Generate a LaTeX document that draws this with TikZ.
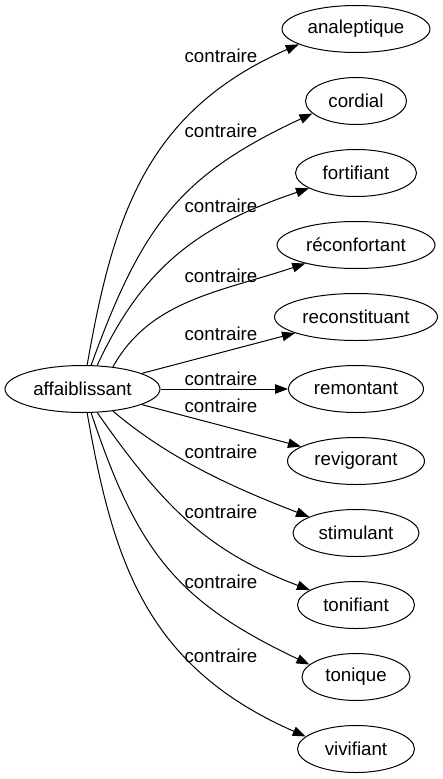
\documentclass[tikz,border=0pt]{standalone}
\usepackage{fontspec}
\setmainfont{Liberation Sans}
\usetikzlibrary{shapes.geometric,arrows.meta}
\begin{document}
\begin{tikzpicture}[x=1pt,y=1pt,
  word/.style={ellipse, draw, line width=1pt, inner sep=0pt, minimum height=47pt,
    font=\fontsize{18.7pt}{22pt}\selectfont},
  lbl/.style={inner sep=0pt, anchor=base, font=\fontsize{18.7pt}{22pt}\selectfont},
  edge/.style={line width=1pt, -{Triangle[length=13pt,width=9.5pt]}}]
\useasboundingbox (0,0) rectangle (443,-779);
\node[word, minimum width=155pt] (src) at (82.5,-389) {affaiblissant};
\node[word, minimum width=148pt] (t1) at (356,-29) {analeptique};
\node[word, minimum width=101pt] (t2) at (356,-101) {cordial};
\node[word, minimum width=121pt] (t3) at (356,-173) {fortifiant};
\node[word, minimum width=158pt] (t4) at (356,-245) {réconfortant};
\node[word, minimum width=163pt] (t5) at (356,-317) {reconstituant};
\node[word, minimum width=135pt] (t6) at (356,-389) {remontant};
\node[word, minimum width=137pt] (t7) at (356,-461) {revigorant};
\node[word, minimum width=126pt] (t8) at (356,-533) {stimulant};
\node[word, minimum width=117pt] (t9) at (356,-605) {tonifiant};
\node[word, minimum width=108pt] (t10) at (356,-677) {tonique};
\node[word, minimum width=117pt] (t11) at (356,-749) {vivifiant};
\draw[edge] (src.79) .. controls (113,-218) and (145,-112) .. (t1.195);
\draw[edge] (src.70) .. controls (142,-225) and (180,-175) .. (t2.196);
\draw[edge] (src.58) .. controls (143,-266) and (200,-225) .. (t3.198);
\draw[edge] (src.36) .. controls (150,-300) and (220,-292) .. (t4.200);
\draw[edge] (src) -- (t5);
\draw[edge] (src) -- (t6);
\draw[edge] (src) -- (t7);
\draw[edge] (src.-36) .. controls (166,-456) and (226,-485) .. (t8.161);
\draw[edge] (src.-58) .. controls (166,-511) and (210,-552) .. (t9.162);
\draw[edge] (src.-70) .. controls (138,-555) and (180,-603) .. (t10.165);
\draw[edge] (src.-79) .. controls (113,-560) and (145,-666) .. (t11.166);
\node[lbl] (l1) at (221,-62) {contraire};
\node[lbl] (l2) at (221,-137) {contraire};
\node[lbl] (l3) at (221,-212) {contraire};
\node[lbl] (l4) at (221,-282) {contraire};
\node[lbl] (l5) at (221,-340) {contraire};
\node[lbl] (l6) at (221,-385) {contraire};
\node[lbl] (l7) at (221,-412) {contraire};
\node[lbl] (l8) at (221,-458) {contraire};
\node[lbl] (l9) at (221,-518) {contraire};
\node[lbl] (l10) at (221,-588) {contraire};
\node[lbl] (l11) at (221,-662) {contraire};
\end{tikzpicture}
\end{document}
